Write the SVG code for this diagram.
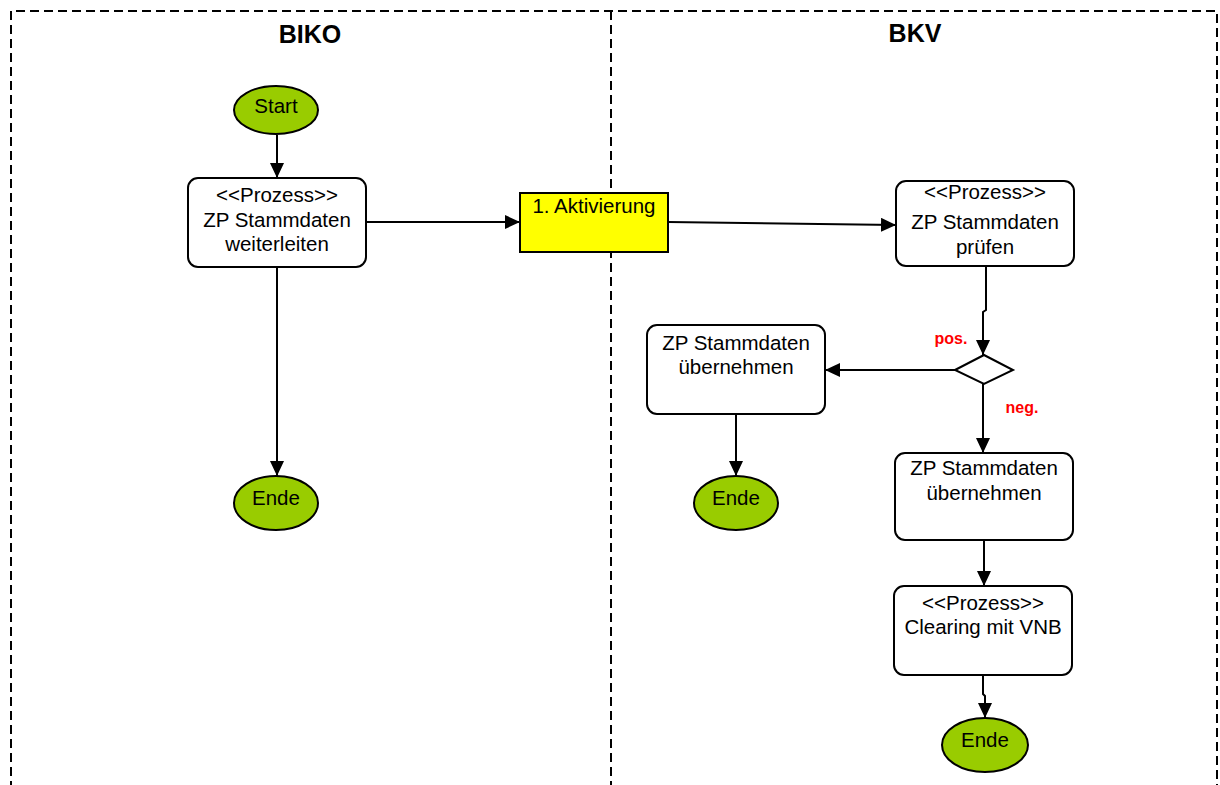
<svg xmlns="http://www.w3.org/2000/svg" width="1220" height="785" viewBox="0 0 1220 785">
<style>
.t{font-family:"Liberation Sans",Arial,sans-serif;font-size:20.5px;fill:#000;text-anchor:middle}
.h{font-family:"Liberation Sans",Arial,sans-serif;font-size:25px;font-weight:bold;fill:#000;text-anchor:middle}
.r{font-family:"Liberation Sans",Arial,sans-serif;font-size:16px;font-weight:bold;fill:#ff0000;text-anchor:middle}
.box{fill:#fff;stroke:#000;stroke-width:2}
.term{fill:#99cc00;stroke:#000;stroke-width:2}
.lane{fill:none;stroke:#000;stroke-width:2;stroke-dasharray:9 5}
.c{fill:none;stroke:#000;stroke-width:2}
</style>
<defs>
<marker id="a" markerWidth="15" markerHeight="14" refX="15" refY="7" orient="auto" markerUnits="userSpaceOnUse">
<path d="M0,0 L15,7 L0,14 Z" fill="#000"/>
</marker>
</defs>
<rect width="1220" height="785" fill="#fff"/>
<g id="lanes">
<path class="lane" d="M11,790 V11 H1217 V790"/>
<path class="lane" d="M611,11 V790"/>
<text class="h" x="310" y="43">BIKO</text>
<text class="h" x="915" y="42">BKV</text>
</g>
<g id="connectors">
<path class="c" d="M277,135 V178" marker-end="url(#a)"/>
<path class="c" d="M366,222 H520" marker-end="url(#a)"/>
<path class="c" d="M668,222 L896,225" marker-end="url(#a)"/>
<path class="c" d="M277,267 V476" marker-end="url(#a)"/>
<path class="c" d="M986,266 V310 L983,312 V355" marker-end="url(#a)"/>
<path class="c" d="M955,370 H825" marker-end="url(#a)"/>
<path class="c" d="M736,414 V476" marker-end="url(#a)"/>
<path class="c" d="M983,384 V453" marker-end="url(#a)"/>
<path class="c" d="M984,540 V586" marker-end="url(#a)"/>
<path class="c" d="M983,675 V694 L985,696 V718" marker-end="url(#a)"/>
<text class="r" x="951" y="344">pos.</text>
<text class="r" x="1022" y="413">neg.</text>
</g>
<g id="start">
<ellipse class="term" cx="276" cy="110" rx="42" ry="24"/>
<text class="t" x="276" y="113">Start</text>
</g>
<g id="weiterleiten">
<rect class="box" x="188" y="178" width="178" height="89" rx="10"/>
<text class="t" x="277" y="202">&lt;&lt;Prozess&gt;&gt;</text>
<text class="t" x="277" y="227">ZP Stammdaten</text>
<text class="t" x="277" y="251">weiterleiten</text>
</g>
<g id="ende1">
<ellipse class="term" cx="276" cy="503" rx="42" ry="27"/>
<text class="t" x="276" y="505">Ende</text>
</g>
<g id="aktivierung">
<rect x="520" y="193" width="148" height="59" fill="#ffff00" stroke="#000" stroke-width="2"/>
<text class="t" x="594" y="213">1. Aktivierung</text>
</g>
<g id="pruefen">
<rect class="box" x="896" y="181" width="178" height="85" rx="10"/>
<text class="t" x="985" y="199">&lt;&lt;Prozess&gt;&gt;</text>
<text class="t" x="985" y="229">ZP Stammdaten</text>
<text class="t" x="985" y="254">prüfen</text>
</g>
<g id="decision">
<path class="box" d="M955,370 L984,355 L1013,370 L984,384 Z"/>
</g>
<g id="uebernehmen1">
<rect class="box" x="647" y="325" width="178" height="89" rx="10"/>
<text class="t" x="736" y="350">ZP Stammdaten</text>
<text class="t" x="736" y="374">übernehmen</text>
</g>
<g id="ende2">
<ellipse class="term" cx="736" cy="503" rx="42" ry="27"/>
<text class="t" x="736" y="505">Ende</text>
</g>
<g id="uebernehmen2">
<rect class="box" x="895" y="453" width="178" height="87" rx="10"/>
<text class="t" x="984" y="475">ZP Stammdaten</text>
<text class="t" x="984" y="500">übernehmen</text>
</g>
<g id="clearing">
<rect class="box" x="894" y="586" width="178" height="89" rx="10"/>
<text class="t" x="983" y="610">&lt;&lt;Prozess&gt;&gt;</text>
<text class="t" x="983" y="634">Clearing mit VNB</text>
</g>
<g id="ende3">
<ellipse class="term" cx="985" cy="745" rx="43" ry="27"/>
<text class="t" x="985" y="747">Ende</text>
</g>
</svg>
